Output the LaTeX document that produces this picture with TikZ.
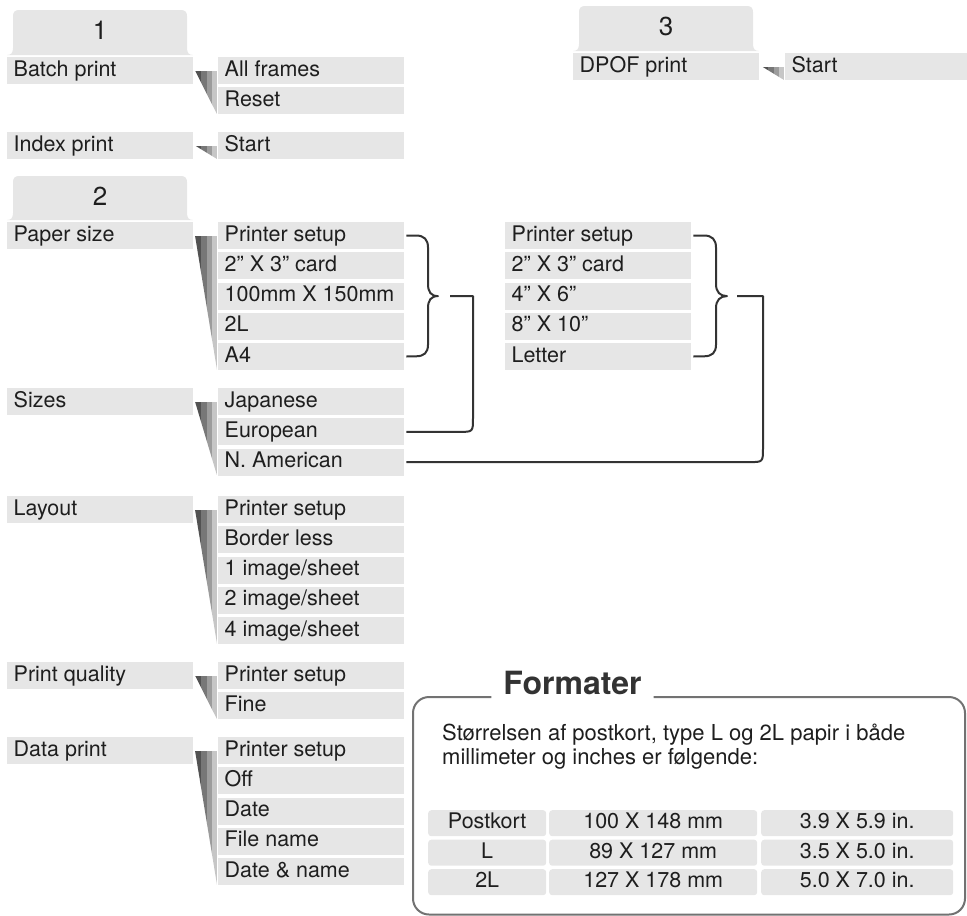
\documentclass[tikz,border=0pt]{standalone}
\usepackage{fontspec}
\setmainfont{TeX Gyre Heros}
\usetikzlibrary{calc}
\definecolor{boxgray}{HTML}{E6E6E6}
\definecolor{ink}{HTML}{1E1E1E}
\definecolor{linec}{HTML}{333333}
\definecolor{framec}{HTML}{727272}
\definecolor{titlec}{HTML}{333333}
\definecolor{wA}{HTML}{525252}
\definecolor{wB}{HTML}{777777}
\definecolor{wC}{HTML}{9C9C9C}
\definecolor{wD}{HTML}{C6C6C6}
\newcommand{\menufont}{\fontsize{21.5}{25}\selectfont}
\newcommand{\lt}[1]{\makebox[173pt][l]{#1}}
% wedge: x left, y top, y bottom
\newcommand{\mywedge}[3]{%
  \begin{scope}
    \clip (#1,#2) -- ({#1+22},#2) -- ({#1+22},#3) -- cycle;
    \fill[wA] (#1,#2) rectangle ({#1+6},#3);
    \fill[wB] ({#1+6},#2) rectangle ({#1+12},#3);
    \fill[wC] ({#1+12},#2) rectangle ({#1+17},#3);
    \fill[wD] ({#1+17},#2) rectangle ({#1+22},#3);
  \end{scope}}
% tab: name, x left, x right, y top, y bottom, digit
\newcommand{\mytab}[6]{%
  \fill[boxgray] (#2,#5) .. controls ({#2+4},#5) and ({#2+6},{#5-2}) .. ({#2+6},{#5-7})
    -- ({#2+6},{#4+6}) .. controls ({#2+6},{#4+2}) and ({#2+8},#4) .. ({#2+12},#4)
    -- ({#3-12},#4) .. controls ({#3-8},#4) and ({#3-6},{#4+2}) .. ({#3-6},{#4+6})
    -- ({#3-6},{#5-7}) .. controls ({#3-6},{#5-2}) and ({#3-4},#5) .. (#3,#5) -- cycle;
  \node[tabnum] (#1) at ({(#2+#3)/2},{#4+29.5}) {#6};}
\begin{document}
\begin{tikzpicture}[x=1pt,y=-1pt,
  item/.style={fill=boxgray, minimum width=186pt, minimum height=27pt,
    inner xsep=6.5pt, inner ysep=3.5pt, text height=15.5pt, text depth=4.5pt,
    anchor=north west, font=\menufont, text=ink},
  tabnum/.style={anchor=base, inner sep=0pt, font=\fontsize{26}{30}\selectfont, text=ink},
  conn/.style={draw=linec, line width=2pt, line join=round},
  cell/.style={fill=boxgray, rounded corners=3pt, minimum height=26pt, inner xsep=0pt,
    inner ysep=3pt, text height=15.5pt, text depth=4.5pt, anchor=north west,
    font=\menufont, text=ink},
  body/.style={anchor=base west, inner sep=0pt, font=\fontsize{22}{25}\selectfont, text=ink},
  titlestyle/.style={anchor=base, inner xsep=12pt, inner ysep=0pt,
    font=\fontsize{32}{36}\selectfont\bfseries, text=titlec},
  frame/.style={draw=framec, line width=2pt}]
\useasboundingbox (0,0) rectangle (967,916);

% ---------- tabs ----------
\mytab{tabA}{7}{193}{10}{55}{1}
\mytab{tabB}{7}{193}{176}{220}{2}
\mytab{tabC}{573}{759}{6}{51}{3}

% ---------- main items ----------
\node[item] (bp) at (7,57) {\lt{Batch print}};
\node[item] (ip) at (7,132) {\lt{Index print}};
\node[item] (ps) at (7,222) {\lt{Paper size}};
\node[item] (sz) at (7,388) {\lt{Sizes}};
\node[item] (ly) at (7,496) {\lt{Layout}};
\node[item] (pq) at (7,662) {\lt{Print quality}};
\node[item] (dp) at (7,737) {\lt{Data print}};
\node[item] (dpof) at (573,53) {\lt{DPOF print}};

% ---------- sub items ----------
\foreach \t [count=\i] in {All frames, Reset}
  \node[item] (a\i) at (218,{57+30.2*(\i-1)}) {\lt{\t}};
\node[item] (s1) at (218,132) {\lt{Start}};
\foreach \t [count=\i] in {Printer setup, 2” X 3” card, 100mm X 150mm, 2L, A4}
  \node[item] (p\i) at (218,{222+30.2*(\i-1)}) {\lt{\t}};
\foreach \t [count=\i] in {Japanese, European, N. American}
  \node[item] (z\i) at (218,{388+30.2*(\i-1)}) {\lt{\t}};
\foreach \t [count=\i] in {Printer setup, Border less, 1 image/sheet, 2 image/sheet, 4 image/sheet}
  \node[item] (l\i) at (218,{496+30.2*(\i-1)}) {\lt{\t}};
\foreach \t [count=\i] in {Printer setup, Fine}
  \node[item] (q\i) at (218,{662+30.2*(\i-1)}) {\lt{\t}};
\foreach \t [count=\i] in {Printer setup, Off, Date, File name, Date \& name}
  \node[item] (d\i) at (218,{737+30.2*(\i-1)}) {\lt{\t}};
\node[item] (t1) at (785,53) {\lt{Start}};
\foreach \t [count=\i] in {Printer setup, 2” X 3” card, 4” X 6”, 8” X 10”, Letter}
  \node[item] (r\i) at (505,{222+30.2*(\i-1)}) {\lt{\t}};

% ---------- wedges ----------
\mywedge{195}{70.5}{114.2}
\mywedge{195}{145.5}{159}
\mywedge{195}{235.5}{369.8}
\mywedge{195}{401.5}{475.4}
\mywedge{195}{509.5}{643.8}
\mywedge{195}{675.5}{719.2}
\mywedge{195}{750.5}{884.8}
\mywedge{762}{66.5}{80}

% ---------- braces and connectors ----------
\draw[conn] ([xshift=2pt]p1.east) -- (416,235.5)
  .. controls (424,235.5) and (428,239.5) .. (428,247.5) -- (428,284)
  .. controls (428,292) and (431,296.1) .. (438,296.1)
  .. controls (431,296.1) and (428,300.2) .. (428,308.2) -- (428,344.7)
  .. controls (428,352.7) and (424,356.3) .. (416,356.3) -- ([xshift=2pt]p5.east);
\coordinate (j1) at (450,296.1);
\coordinate (k1) at (473,296.1 |- z2.east);
\draw[conn] (j1) -- (473,296.1) -- ($(k1)+(0,-14)$)
  .. controls (k1) .. ($(k1)+(-14,0)$) -- ([xshift=2pt]z2.east);

\draw[conn] ([xshift=2pt]r1.east) -- (704,235.5)
  .. controls (712,235.5) and (716,239.5) .. (716,247.5) -- (716,284)
  .. controls (716,292) and (720,296.1) .. (727,296.1)
  .. controls (720,296.1) and (716,300.2) .. (716,308.2) -- (716,344.7)
  .. controls (716,352.7) and (712,356.3) .. (704,356.3) -- ([xshift=2pt]r5.east);
\coordinate (j2) at (737,296.1);
\coordinate (k2) at (763,296.1 |- z3.east);
\draw[conn] (j2) -- (763,296.1) -- ($(k2)+(0,-14)$)
  .. controls (k2) .. ($(k2)+(-14,0)$) -- ([xshift=2pt]z3.east);

% ---------- Formater box ----------
\node[titlestyle] (ftitle) at (572.5,694) {Formater};
\draw[frame, rounded corners=16pt] (ftitle.west |- 413,697) -- (413,697) -- (413,914.5)
  -- (965,914.5) -- (965,697) -- (ftitle.east |- 413,697);
\node[body] (txt1) at (442,740) {Størrelsen af postkort, type L og 2L papir i både};
\node[body] (txt2) at (442,764) {millimeter og inches er følgende:};

\node[cell, minimum width=118pt] (c11) at (428,810) {Postkort};
\node[cell, minimum width=208pt] (c12) at (549,810) {100 X 148 mm};
\node[cell, minimum width=192pt] (c13) at (761,810) {3.9 X 5.9 in.};
\node[cell, minimum width=118pt] (c21) at (428,839.5) {L};
\node[cell, minimum width=208pt] (c22) at (549,839.5) {89 X 127 mm};
\node[cell, minimum width=192pt] (c23) at (761,839.5) {3.5 X 5.0 in.};
\node[cell, minimum width=118pt] (c31) at (428,869) {2L};
\node[cell, minimum width=208pt] (c32) at (549,869) {127 X 178 mm};
\node[cell, minimum width=192pt] (c33) at (761,869) {5.0 X 7.0 in.};
\end{tikzpicture}
\end{document}
